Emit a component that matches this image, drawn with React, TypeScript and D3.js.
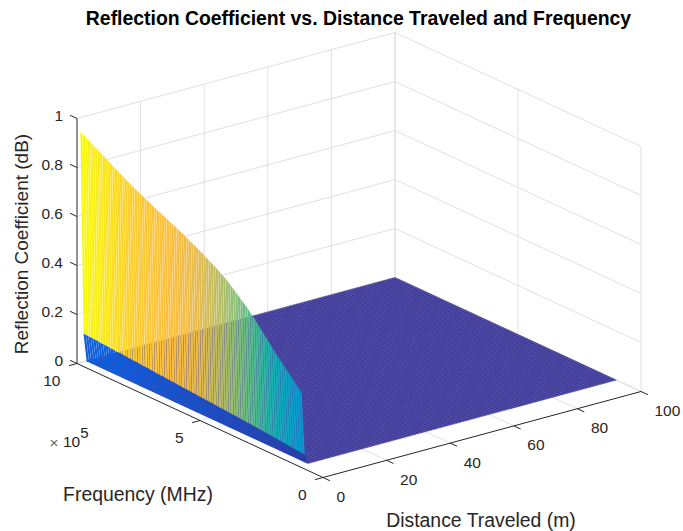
import React from "react";
import * as d3 from "d3";

const title = "Reflection Coefficient vs. Distance Traveled and Frequency";
const xTicks = [0, 20, 40, 60, 80, 100];
const fTicks = [0, 5, 10];
const zTicks = [0, 0.2, 0.4, 0.6, 0.8, 1];
const zTickLabels = ["0", "0.2", "0.4", "0.6", "0.8", "1"];

// Frequency samples, in units of 1e5 MHz
const frequencies = d3.range(10, 101).map((v) => v / 10);
// Surface height along the distance = 1 m row
const row1 = [
  .298, .308, .318, .329, .339, .350, .360, .371, .381, .392,
  .402, .414, .426, .437, .449, .460, .472, .483, .495, .507,
  .518, .528, .538, .548, .557, .566, .575, .584, .593, .602,
  .610, .618, .625, .632, .639, .645, .651, .657, .663, .669,
  .675, .681, .686, .692, .697, .702, .707, .713, .718, .723,
  .728, .733, .738, .742, .747, .752, .756, .761, .766, .770,
  .775, .780, .785, .790, .795, .800, .805, .810, .815, .820,
  .825, .831, .837, .843, .849, .855, .861, .867, .873, .879,
  .885, .891, .897, .903, .908, .914, .920, .926, .932, .938, .943,
];
// Surface height along the distance = 2 m row
const row2 = [
  .040, .041, .042, .043, .044, .045, .046, .047, .048, .049,
  .050, .051, .052, .053, .054, .055, .056, .057, .058, .059,
  .060, .061, .062, .062, .063, .064, .065, .066, .067, .067,
  .068, .069, .070, .071, .071, .072, .073, .074, .075, .075,
  .076, .077, .078, .079, .079, .080, .081, .082, .083, .083,
  .084, .085, .086, .087, .087, .088, .089, .090, .091, .091,
  .092, .093, .094, .095, .096, .096, .097, .098, .099, .100,
  .100, .101, .102, .103, .104, .105, .105, .106, .107, .108,
  .109, .110, .110, .111, .112, .113, .114, .114, .115, .115, .116,
];
// Distance samples of the flat part of the surface (height 0)
const floorDistances = d3.range(3, 101);
const distanceFirst = 1;
const distanceSecond = 2;
const distanceThird = 3;

const parulaDomain = [0, 7, 14, 21, 28, 35, 41, 46, 50, 55, 63].map((v) => v / 63);
const parulaColors = ["#352a87", "#0f5cdd", "#127dd8", "#079ccf", "#15b1b4", "#59bd8c", "#a5be6b", "#e8ba4c", "#fdbe3d", "#fcce2e", "#f9fb0e"];

const ORIGIN = { x: 323, y: 477.5 };
const xToSx = d3.scaleLinear().domain([0, 100]).range([0, 318]);
const xToSy = d3.scaleLinear().domain([0, 100]).range([0, -86]);
const fToSx = d3.scaleLinear().domain([0, 10]).range([0, -246]);
const fToSy = d3.scaleLinear().domain([0, 10]).range([0, -114]);
const zToSy = d3.scaleLinear().domain([0, 1]).range([0, -245]);
const color = d3.scaleLinear<string>().domain(parulaDomain).range(parulaColors).interpolate(d3.interpolateRgb);

const P = (x: number, f: number, z = 0): [number, number] => [
  ORIGIN.x + xToSx(x) + fToSx(f),
  ORIGIN.y + xToSy(x) + fToSy(f) + zToSy(z),
];
const seg = (a: [number, number], b: [number, number]) => `M${a[0]},${a[1]}L${b[0]},${b[1]}`;
const poly = (pts: [number, number][]) => pts.map((p) => p.join(",")).join(" ");
const FONT = "'Liberation Sans', Arial, sans-serif";
const zMax = d3.max(row1) as number;
const GAP = 0.9;

export default function App() {
  const grid: string[] = [];
  for (const z of zTicks) {
    grid.push(seg(P(0, 10, z), P(100, 10, z)), seg(P(100, 10, z), P(100, 0, z)));
  }
  for (const x of xTicks.slice(1)) {
    grid.push(seg(P(x, 10, 0), P(x, 10, 1)), seg(P(x, 0, 0), P(x, 10, 0)));
  }
  for (const f of fTicks) {
    grid.push(seg(P(100, f, 0), P(100, f, 1)));
    if (f > 0) grid.push(seg(P(0, f, 0), P(100, f, 0)));
  }

  const floorLines: string[] = [];
  for (const x of floorDistances) floorLines.push(seg(P(x, frequencies[0]), P(x, 10)));
  for (const f of frequencies) floorLines.push(seg(P(distanceThird, f), P(100, f)));

  const facets = (d1: number, z1: number[], d2: number, z2: number[], gap: number) =>
    frequencies.slice(0, -1).map((f, i) => {
      const g = frequencies[i] + (frequencies[i + 1] - frequencies[i]) * gap;
      const za = z1[i], zb = z1[i] + (z1[i + 1] - z1[i]) * gap;
      const wa = z2[i], wb = z2[i] + (z2[i + 1] - z2[i]) * gap;
      return (
        <polygon key={f} fill={color(za / zMax)}
          points={poly([P(d1, f, za), P(d1, g, zb), P(d2, g, wb), P(d2, f, wa)])} />
      );
    });

  const row3 = row2.map(() => 0);
  const tickColor = "#262626";

  return (
    <svg width={683} height={531} style={{ position: "absolute", left: 0, top: 0, background: "#fff" }} fontFamily={FONT}>
      <path d={grid.join("")} stroke="#dcdcdc" strokeWidth={0.9} fill="none" />

      <polygon fill="#5f5ac4" points={poly([P(distanceThird, 1), P(100, 1), P(100, 10), P(distanceThird, 10)])} />
      <path d={floorLines.join("")} stroke="#1a1650" strokeOpacity={0.7} strokeWidth={0.5} fill="none" />

      <g>{facets(distanceSecond, row2, distanceThird, row3, 0.95)}</g>
      <g>{facets(distanceFirst, row1, distanceSecond, row2, GAP)}</g>

      {/* axes */}
      <path d={seg(P(0, 0), P(100, 0)) + seg(P(0, 0), P(0, 10)) + seg(P(0, 10, 0), P(0, 10, 1))} stroke={tickColor} strokeWidth={1} fill="none" />
      {xTicks.map((x) => {
        const a = P(x, 0), b = P(x, -0.28);
        return (
          <g key={x}>
            <path d={seg(a, b)} stroke={tickColor} strokeWidth={1} />
            <text x={a[0] + 13.5} y={a[1] + 24.5} fontSize={15.5} fill={tickColor}>{x}</text>
          </g>
        );
      })}
      {fTicks.map((f) => {
        const a = P(0, f), b = P(-2.5, f);
        return (
          <g key={f}>
            <path d={seg(a, b)} stroke={tickColor} strokeWidth={1} />
            <text x={a[0] - 16.5} y={a[1] + 22.5} textAnchor="end" fontSize={15.5} fill={tickColor}>{f}</text>
          </g>
        );
      })}
      {zTicks.map((z, i) => {
        const a = P(0, 10, z), b = P(0, 10.28, z);
        return (
          <g key={z}>
            <path d={seg(a, b)} stroke={tickColor} strokeWidth={1} />
            <text x={a[0] - 14} y={a[1] + 2} textAnchor="end" fontSize={15.5} fill={tickColor}>{zTickLabels[i]}</text>
          </g>
        );
      })}
      <text x={49.5} y={448} fontSize={15.5} fill="#666">×</text>
      <text x={63} y={447} fontSize={15.5} fill={tickColor}>10<tspan dy={-9} fontSize={15}>5</tspan></text>

      <text x={138} y={501} textAnchor="middle" fontSize={19.4} fill={tickColor}>Frequency (MHz)</text>
      <text x={481} y={527} textAnchor="middle" fontSize={19.4} fill={tickColor}>Distance Traveled (m)</text>
      <text transform="translate(28,244) rotate(-90)" textAnchor="middle" fontSize={19} fill={tickColor}>Reflection Coefficient (dB)</text>
      <text x={358.5} y={25} textAnchor="middle" fontSize={19.4} fontWeight="bold" fill="#000">{title}</text>
    </svg>
  );
}
